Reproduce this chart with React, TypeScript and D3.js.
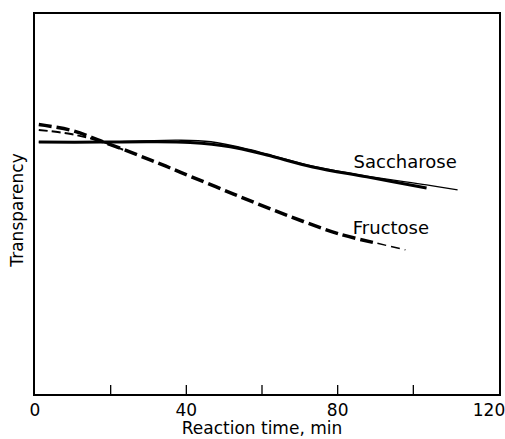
import React, { useEffect, useRef } from 'react'
import * as d3 from 'd3'

// reaction time (min) / transparency (relative units, 0 = bottom of frame)
const saccharoseThick = [
    [1, 66.2], [17.4, 66.2], [30.4, 66.3], [41, 66.1], [51.6, 65.0],
    [61.3, 62.8], [73.4, 59.7], [87.7, 57.1], [103.5, 54.2]
]
const saccharoseThin = [
    [1, 66.2], [17.4, 66.2], [37.8, 66.7], [46.5, 66.3], [57, 64.2],
    [61.3, 63.1], [73.4, 59.9], [87.7, 57.3], [103.5, 55.0], [111.7, 53.7]
]
const fructoseThick = [
    [1, 70.8], [9.5, 69.3], [17.4, 66.5], [30.6, 61.5], [38.5, 58.3],
    [52.5, 52.6], [66.7, 47.0], [80.6, 42.1], [90.5, 39.7]
]
const fructoseThinTail = [[90.5, 39.7], [97.9, 38.0]]
const fructoseThinStart = [[1, 69.4], [9.5, 68.3], [17.4, 66.4], [24, 63.9]]

const xTicks = [0, 40, 80, 120]
const xMinorTicks = [20, 40, 60, 80, 100]

const labels = [
    { text: 'Saccharose', x: 84.2, y: 59.3 },
    { text: 'Fructose', x: 84.0, y: 42.2 }
]

const W = 505
const H = 439
const FONT = '"DejaVu Sans", sans-serif'

function App() {
    const ref = useRef<SVGSVGElement>(null)

    useEffect(() => {
        const svg = d3.select(ref.current)
        svg.selectAll('*').remove()

        const left = 34, right = 500, top = 13, bottom = 395
        const x = d3.scaleLinear().domain([0, 120]).range([35, 489])
        const y = d3.scaleLinear().domain([0, 100]).range([bottom, top])

        // frame
        svg.append('rect')
            .attr('x', left).attr('y', top)
            .attr('width', right - left).attr('height', bottom - top)
            .attr('fill', 'none').attr('stroke', '#000').attr('stroke-width', 2)

        // inward ticks on the time axis
        svg.selectAll('line.tick')
            .data(xMinorTicks)
            .enter()
            .append('line')
            .attr('class', 'tick')
            .attr('x1', d => x(d)).attr('x2', d => x(d))
            .attr('y1', bottom).attr('y2', bottom - 10)
            .attr('stroke', '#000').attr('stroke-width', 1.3)

        svg.selectAll('text.xlab')
            .data(xTicks)
            .enter()
            .append('text')
            .attr('class', 'xlab')
            .attr('x', d => x(d))
            .attr('y', 416)
            .attr('text-anchor', 'middle')
            .style('font-family', FONT)
            .style('font-size', '17px')
            .text(d => d)

        svg.append('text')
            .attr('x', 262).attr('y', 434)
            .attr('text-anchor', 'middle')
            .style('font-family', FONT)
            .style('font-size', '17px')
            .text('Reaction time, min')

        svg.append('text')
            .attr('transform', 'translate(23,210) rotate(-90)')
            .attr('text-anchor', 'middle')
            .style('font-family', FONT)
            .style('font-size', '17px')
            .text('Transparency')

        const line = d3.line<number[]>()
            .x(d => x(d[0]))
            .y(d => y(d[1]))
            .curve(d3.curveCatmullRom.alpha(0.5))

        const curves = [
            { data: saccharoseThin, w: 1.3, dash: null },
            { data: saccharoseThick, w: 3, dash: null },
            { data: fructoseThinStart, w: 2, dash: '9,4' },
            { data: fructoseThick, w: 3.5, dash: '13,5' },
            { data: fructoseThinTail, w: 1.5, dash: '9,5' }
        ]
        curves.forEach(c => {
            svg.append('path')
                .datum(c.data)
                .attr('d', line)
                .attr('fill', 'none')
                .attr('stroke', '#000')
                .attr('stroke-width', c.w)
                .attr('stroke-dasharray', c.dash)
        })

        svg.selectAll('text.series')
            .data(labels)
            .enter()
            .append('text')
            .attr('class', 'series')
            .attr('x', d => x(d.x))
            .attr('y', d => y(d.y))
            .style('font-family', FONT)
            .style('font-size', '18px')
            .text(d => d.text)
    }, [])

    return (
        <svg ref={ref} width={W} height={H}
            style={{ position: 'absolute', left: 0, top: 0, background: '#fff' }} />
    )
}

export default App
